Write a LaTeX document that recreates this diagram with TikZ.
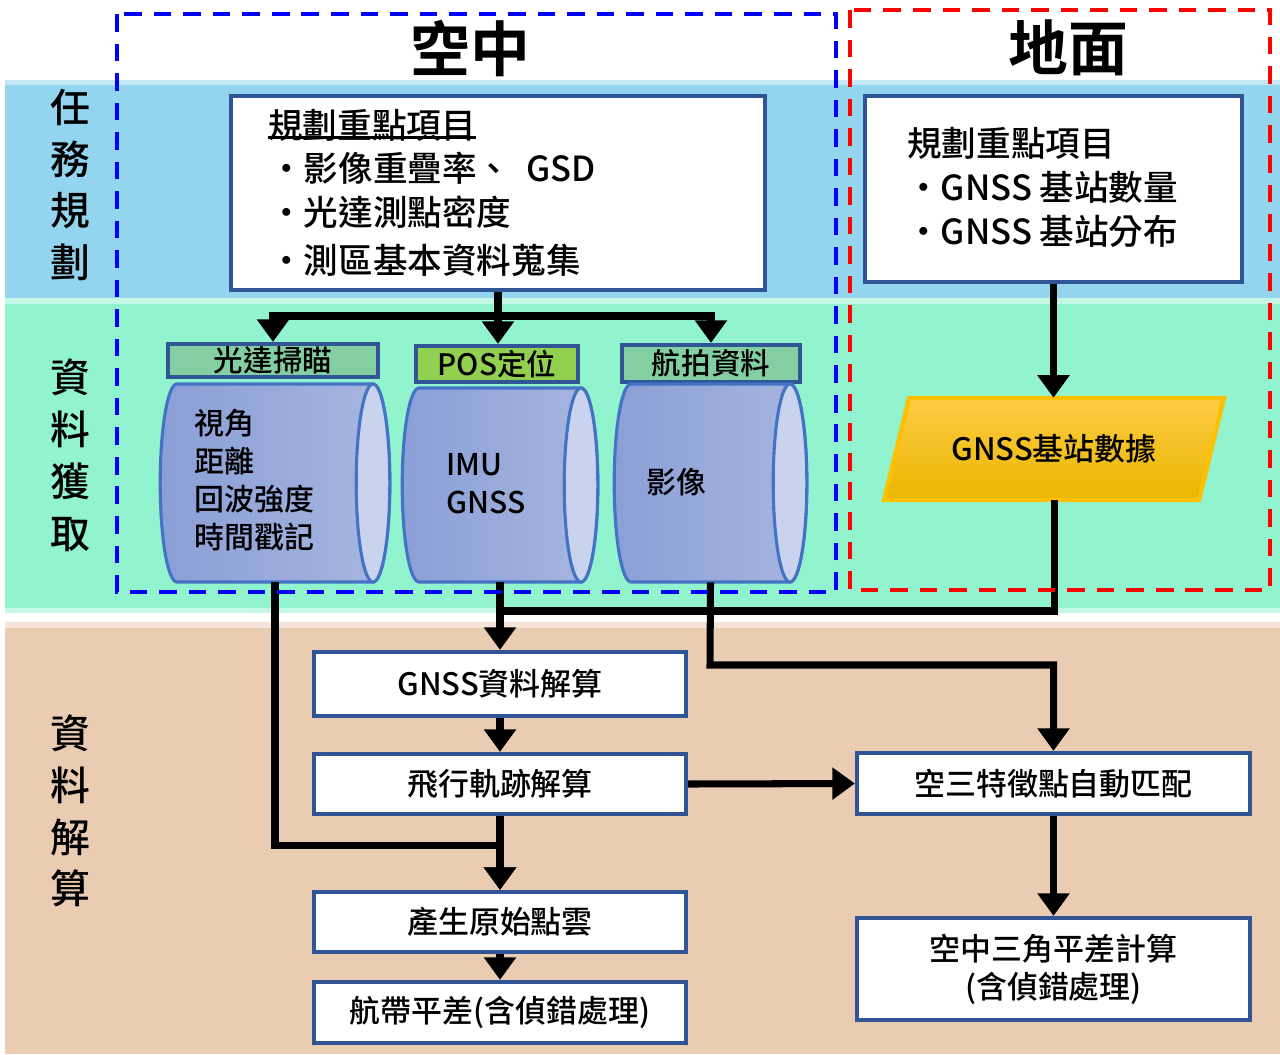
\documentclass[tikz,border=0pt]{standalone}
\usepackage{fontspec}
\setmainfont{Noto Sans CJK TC Medium}[BoldFont={Noto Sans CJK TC Bold}]
\usetikzlibrary{arrows.meta,fit,calc}
\definecolor{bandB}{HTML}{93D4EE}
\definecolor{bandBl}{HTML}{C2E8F6}
\definecolor{bandG}{HTML}{92F3CF}
\definecolor{bandGl}{HTML}{C4F8E4}
\definecolor{bandT}{HTML}{EACCB2}
\definecolor{bandTl}{HTML}{F6E4D8}
\definecolor{boxblue}{HTML}{2F5597}
\definecolor{lblgreen}{HTML}{84CFA2}
\definecolor{posgreen}{HTML}{92D050}
\definecolor{cylA}{HTML}{8A9FD7}
\definecolor{cylB}{HTML}{A8B6DF}
\definecolor{cylC}{HTML}{C9D3EE}
\definecolor{cylEdge}{HTML}{4472C4}
\definecolor{goldA}{HTML}{FFCB45}
\definecolor{goldB}{HTML}{E9B600}
\definecolor{goldE}{HTML}{FFC000}
\definecolor{dashB}{HTML}{0000FF}
\definecolor{dashR}{HTML}{FF0000}
\newcommand\fsTitle{\fontsize{42.5pt}{50pt}\selectfont}
\newcommand\fsSide{\fontsize{28.3pt}{36.9pt}\selectfont}
\newcommand\fsPlan{\fontsize{24.6pt}{30pt}\selectfont}
\newcommand\fsBox{\fontsize{22pt}{27pt}\selectfont}
\newcommand\fsCyl{\fontsize{21.3pt}{27.2pt}\selectfont}
\newcommand\fsLbl{\fontsize{21pt}{25pt}\selectfont}
\tikzset{
  box/.style={draw=boxblue, line width=3pt, fill=white, inner sep=0pt, font=\fsBox, align=center},
  lblbox/.style={draw=boxblue, line width=3pt, inner sep=0pt, font=\fsLbl},
  conn/.style={line width=5pt, -{Triangle[width=22pt,length=16pt]}},
  plainline/.style={line width=5pt},
  cylline/.style={draw=cylEdge, line width=2.2pt},
  sidelabel/.style={font=\fsSide, align=center, inner sep=0pt},
  plantext/.style={font=\fsPlan, anchor=west, inner sep=0pt},
  areadash/.style={line width=3pt, dash pattern=on 12.5pt off 8.5pt},
}
\newcommand\mycyl[5]{%
  \pgfmathsetmacro\cylL{#2+17}%
  \pgfmathsetmacro\cylR{#3-17}%
  \pgfmathsetmacro\cylM{(#4+#5)/2}%
  \pgfmathsetmacro\cylRY{(#5-#4)/2*0.025}%
  \draw[cylline, left color=cylA, right color=cylB]
    (\cylL,#4) arc[start angle=90, end angle=270, x radius=0.42cm, y radius=\cylRY cm]
    -- (\cylR,#5) arc[start angle=270, end angle=450, x radius=0.42cm, y radius=\cylRY cm]
    -- cycle;
  \draw[cylline, fill=cylC] (\cylR,\cylM) ellipse[x radius=0.42cm, y radius=\cylRY cm];
  \node[fit={(#2,#4) (#3,#5)}, inner sep=0pt] (#1) {};
}
\begin{document}
\begin{tikzpicture}[x=0.025cm, y=-0.025cm]
\useasboundingbox (0,0) rectangle (1280,1054);
% bands
\fill[white] (0,0) rectangle (1280,1054);
\fill[bandB] (5,80) rectangle (1280,298);
\fill[bandBl] (5,80) rectangle (1280,85);
\fill[bandG] (5,298) rectangle (1280,613);
\fill[bandGl] (5,298) rectangle (1280,304);
\fill[bandGl] (5,608) rectangle (1280,613);
\fill[bandT] (5,622) rectangle (1280,1054);
\fill[bandTl] (5,622) rectangle (1280,628);
% titles
\node[font=\fsTitle\bfseries, inner sep=0pt] (tAir) at (470,48) {空中};
\node[font=\fsTitle\bfseries, inner sep=0pt] (tGround) at (1068,48) {地面};
% side labels
\node[sidelabel] (s1) at (70,185) {任\\務\\規\\劃};
\node[sidelabel] (s2) at (70,455) {資\\料\\獲\\取};
\node[sidelabel] (s3) at (70,811) {資\\料\\解\\算};
% planning boxes
\node[box, fit={(231,96) (765,290)}] (planA) {};
\node[plantext] (pa0) at (268,125) {規劃重點項目};
\draw[line width=2pt] ($(pa0.south west)+(0,-4)$) -- ($(pa0.south east)+(0,-4)$);
\node[plantext] (pa1) at (269,168) {·影像重疊率、\hspace{5pt} GSD};
\node[plantext] (pa2) at (269,212) {·光達測點密度};
\node[plantext] (pa3) at (269,260) {·測區基本資料蒐集};
\node[box, fit={(865,96) (1242,282)}] (planB) {};
\node[plantext] (pb0) at (907,143) {規劃重點項目};
\node[plantext] (pb1) at (906,187) {·GNSS 基站數量};
\node[plantext] (pb2) at (906,231) {·GNSS 基站分布};
% label boxes
\node[lblbox, fill=lblgreen, fit={(168,344) (378,377)}] (lbl1) {};
\node[font=\fsLbl, inner sep=0pt] at (lbl1.center) {光達掃瞄};
\node[lblbox, fill=posgreen, fit={(416,346) (578,382)}] (lbl2) {};
\node[font=\fsLbl, inner sep=0pt] at (lbl2.center) {POS定位};
\node[lblbox, fill=lblgreen, fit={(622,345) (800,382)}] (lbl3) {};
\node[font=\fsLbl, inner sep=0pt] at (lbl3.center) {航拍資料};
% cylinders
\mycyl{cyl1}{160}{390}{384}{582}
\mycyl{cyl2}{402}{598}{388}{582}
\mycyl{cyl3}{614}{807}{384}{582}
\node[font=\fsCyl, align=left, anchor=west, inner sep=0pt] (c1t) at (194,480) {視角\\距離\\回波強度\\時間戳記};
\node[font=\fsCyl, align=left, anchor=west, inner sep=0pt] (c2t) at (446,484) {IMU\\GNSS};
\node[font=\fsCyl, anchor=west, inner sep=0pt] (c3t) at (646,482) {影像};
% GNSS station data parallelogram
\draw[draw=goldE, line width=3pt, top color=goldA, bottom color=goldB]
  (909,398) -- (1224,398) -- (1199,500) -- (884,500) -- cycle;
\node[fit={(884,398) (1224,500)}, inner sep=0pt] (gnssdata) {};
\node[font=\fsBox, inner sep=0pt] at (gnssdata.center) {GNSS基站數據};
% processing boxes
\node[box, fit={(314,652) (686,716)}] (gcalc) {};
\node[font=\fsBox, inner sep=0pt] at (gcalc.center) {GNSS資料解算};
\node[box, fit={(314,754) (686,814)}] (traj) {};
\node[font=\fsBox, inner sep=0pt] at (traj.center) {飛行軌跡解算};
\node[box, fit={(314,892) (686,952)}] (cloud) {};
\node[font=\fsBox, inner sep=0pt] at (cloud.center) {產生原始點雲};
\node[box, fit={(314,982) (686,1043)}] (strip) {};
\node[font=\fsBox, inner sep=0pt] at (strip.center) {航帶平差(含偵錯處理)};
\node[box, fit={(857,753) (1250,814)}] (match) {};
\node[font=\fsBox, inner sep=0pt] at (match.center) {空三特徵點自動匹配};
\node[box, fit={(857,918) (1250,1020)}] (aat) {};
\node[font=\fsBox, inner sep=0pt, align=center] at (aat.center) {空中三角平差計算\\(含偵錯處理)};
% connectors
\coordinate (j1) at (498,316);
\draw[plainline] (planA.south) -- (j1);
\draw[conn] (j1) -| (lbl1.north);
\draw[conn] (j1) -- (lbl2.north -| j1);
\draw[conn] (j1) -| (lbl3.north);
\draw[conn] (planB.south) -- (planB.south |- gnssdata.north);
\coordinate (j2) at (1054,611);
\coordinate (j3) at (500,611);
\draw[plainline] (gnssdata.south) -- (j2) -- (j3);
\draw[plainline] (cyl2.south) -- (j3);
\draw[conn] (j3) -- (gcalc.north);
\coordinate (j4) at (710,665);
\draw[conn] (cyl3.south) -- (j4) -| (match.north);
\coordinate (j5) at (275,845);
\draw[conn] (cyl1.south) -- (j5) -| (cloud.north);
\draw[conn] (gcalc.south) -- (traj.north);
\draw[conn] (traj.south) -- (cloud.north);
\draw[conn] (cloud.south) -- (strip.north);
\draw[conn] (traj.east) -- (match.west);
\draw[conn] (match.south) -- (aat.north);
% area frames
\draw[areadash, draw=dashB] (117,14) rectangle (836,592);
\draw[areadash, draw=dashR] (850,10) rectangle (1270,590);
\end{tikzpicture}
\end{document}
